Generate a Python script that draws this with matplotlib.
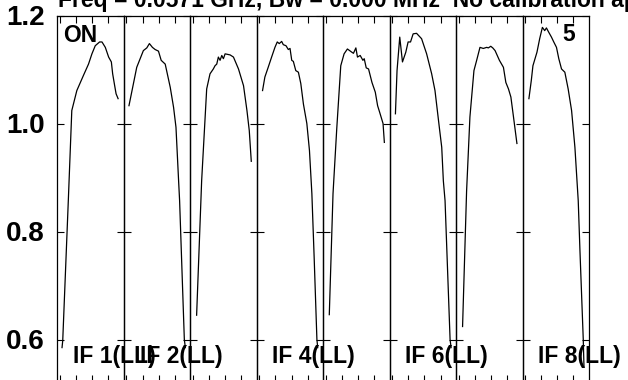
import matplotlib
matplotlib.use("Agg")
import matplotlib.pyplot as plt

# amplitude vs channel for each IF
chan1 = [4.5, 5.2, 10.8, 14.2, 19.2, 26, 30.8, 34.2, 37.5, 41.8, 44.2, 47.5, 50.8, 53.5, 54.8, 56.8, 58.2, 60.2]
amp1 = [0.585, 0.598, 0.86, 1.024, 1.061, 1.09, 1.11, 1.129, 1.144, 1.151, 1.151, 1.141, 1.123, 1.114, 1.092, 1.07, 1.055, 1.046]

chan2 = [5, 12.7, 19.3, 22.7, 25.3, 28.3, 31, 34.3, 37, 41, 46, 49.3, 51.7, 54.3, 55.3, 60, 61]
amp2 = [1.033, 1.104, 1.135, 1.14, 1.148, 1.141, 1.137, 1.134, 1.117, 1.11, 1.067, 1.03, 0.993, 0.894, 0.857, 0.6, 0.585]

chan3 = [6.2, 11.2, 16.2, 19.5, 22.8, 24.5, 26.2, 27.8, 29.5, 31.2, 32.8, 34.5, 39.5, 42.8, 47.8, 52.8, 56.2, 58.5, 60.5]
amp3 = [0.645, 0.894, 1.064, 1.092, 1.101, 1.107, 1.11, 1.123, 1.117, 1.126, 1.12, 1.129, 1.127, 1.123, 1.101, 1.07, 1.024, 0.987, 0.93]

chan4 = [5.7, 8, 11.3, 14.7, 18, 20.3, 22.3, 24.7, 26.3, 29, 31.3, 33, 34.7, 36.3, 38.7, 41.3, 43.7, 46.3, 49.7, 52.3, 54.7, 57, 59.7, 60.5]
amp4 = [1.061, 1.086, 1.104, 1.123, 1.141, 1.151, 1.148, 1.152, 1.146, 1.144, 1.137, 1.139, 1.117, 1.115, 1.098, 1.095, 1.074, 1.036, 1.0, 0.95, 0.87, 0.75, 0.6, 0.585]

chan5 = [6, 9.7, 13.4, 17.4, 20.7, 24, 28.4, 30, 32.4, 34, 36.7, 39.4, 40.7, 42.7, 45, 48.4, 51.7, 54, 56, 59.4, 60.7]
amp5 = [0.646, 0.87, 0.99, 1.107, 1.129, 1.138, 1.132, 1.13, 1.14, 1.123, 1.126, 1.117, 1.12, 1.103, 1.101, 1.076, 1.058, 1.033, 1.021, 1.0, 0.965]

chan6 = [5.7, 7.3, 10, 12.7, 16, 18.3, 20.7, 23.3, 26.7, 31.7, 36.7, 41.7, 45, 49.3, 51.7, 53.3, 55, 60, 61]
amp6 = [1.018, 1.098, 1.16, 1.114, 1.132, 1.151, 1.151, 1.166, 1.167, 1.157, 1.129, 1.092, 1.061, 0.993, 0.956, 0.894, 0.857, 0.6, 0.585]

chan7 = [6.4, 10.4, 13.7, 17.7, 20.4, 23.7, 27, 30.4, 32, 34.4, 36.4, 38.7, 43, 47, 49.4, 52, 54.4, 57, 60.4]
amp7 = [0.624, 0.875, 1.012, 1.098, 1.117, 1.141, 1.139, 1.141, 1.14, 1.143, 1.14, 1.135, 1.117, 1.104, 1.076, 1.064, 1.049, 1.012, 0.963]

chan8 = [6.3, 8.7, 10.3, 14.3, 17, 19.7, 22, 23.7, 26, 28.7, 31, 33.7, 36, 38.7, 42, 45.3, 48.7, 52, 55.3, 57, 60.3, 61]
amp8 = [1.046, 1.08, 1.107, 1.132, 1.157, 1.178, 1.172, 1.177, 1.169, 1.16, 1.151, 1.141, 1.12, 1.101, 1.095, 1.064, 1.024, 0.956, 0.857, 0.765, 0.6, 0.55]

if_labels = ["IF 1(LL)", "IF 2(LL)", "", "IF 4(LL)", "", "IF 6(LL)", "", "IF 8(LL)"]
yticks = [0.6, 0.8, 1.0, 1.2]
xticks = [2.5, 18.5, 34.5, 50.5]

chans = [chan1, chan2, chan3, chan4, chan5, chan6, chan7, chan8]
amps = [amp1, amp2, amp3, amp4, amp5, amp6, amp7, amp8]

plt.rcParams['font.family'] = ['Liberation Sans', 'DejaVu Sans']
plt.rcParams['font.weight'] = 'bold'

fig = plt.figure(figsize=(6.28, 3.8), dpi=100)

left = 57.5 / 628
width = (589 - 57.5) / 8 / 628
bottom = -1.5 / 380
height = (381 - 15) / 380

for i in range(8):
    ax = fig.add_axes([left + i * width, bottom, width, height])
    ax.set_facecolor('none')
    ax.plot(chans[i], amps[i], color='black', lw=0.9)
    ax.set_xlim(0, 66)
    ax.set_ylim(1.2 - 366 / 540, 1.2)
    ax.set_yticks(yticks)
    ax.set_xticks(xticks)
    ax.tick_params(axis='y', direction='in', left=True, right=True, length=5, width=0.8,
                   labelleft=(i == 0), labelsize=20, pad=9)
    ax.tick_params(axis='x', direction='in', top=True, bottom=True, length=5, width=0.8,
                   labelbottom=False)
    for s in ax.spines.values():
        s.set_linewidth(0.9)
    if i == 0:
        ax.set_yticklabels([f"{v:.1f}" for v in yticks], fontweight='bold')
        ax.text(5.8, 1.1506, "ON", fontsize=16.5, fontweight='bold', va='baseline')
    if i == 7:
        ax.text(52.5, 1.1537, "5", fontsize=16.5, fontweight='bold', va='baseline', ha='right')
    if if_labels[i]:
        ax.text(15.5, 0.5574, if_labels[i], fontsize=16.5, fontweight='bold', va='baseline',
                clip_on=False, zorder=5)

fig.text(58 / 628, 1 - 7 / 380, "Freq = 0.0571 GHz, Bw = 0.000 MHz  No calibration applied",
         fontsize=16.5, fontweight='bold', va='baseline')

fig.savefig("out.png", dpi=100)
